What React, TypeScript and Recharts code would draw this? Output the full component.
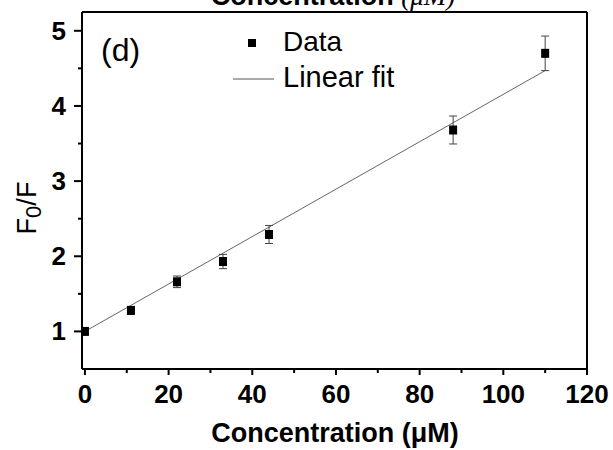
import React from 'react';
import {
  ComposedChart, XAxis, YAxis, Scatter, Line, ErrorBar, ReferenceLine, Customized,
} from 'recharts';

const concentrations = [0, 11, 22, 33, 44, 88, 110];
const ratios = [1.0, 1.28, 1.66, 1.93, 2.29, 3.68, 4.7];
const errors = [0.02, 0.05, 0.077, 0.095, 0.12, 0.186, 0.23];
const fitX = [0, 110];
const fitY = [1.0, 4.47];
const xTicks = [0, 20, 40, 60, 80, 100, 120];
const xMinorTicks = [10, 30, 50, 70, 90, 110];
const yTicks = [1, 2, 3, 4, 5];
const yMinorTicks = [1.5, 2.5, 3.5, 4.5];

const data = concentrations.map((x, i) => ({ x, y: ratios[i], err: errors[i] }));
const fitData = fitX.map((x, i) => ({ x, fit: fitY[i] }));
const allXTicks = [...xTicks, ...xMinorTicks].sort((a, b) => a - b);
const allYTicks = [...yTicks, ...yMinorTicks].sort((a, b) => a - b);

const FONT = '"Liberation Sans", Arial, sans-serif';

const Square = (props: any) => {
  const { cx, cy } = props;
  if (cx == null || cy == null) return null;
  return <rect x={cx - 4} y={cy - 4.5} width={8} height={9} fill="#000" />;
};

const XTick = (props: any) => {
  const { x, y, payload } = props;
  const major = xTicks.includes(payload.value);
  return (
    <g>
      <line x1={x} x2={x} y1={y} y2={y + (major ? 6 : 4)} stroke="#000" strokeWidth={2} />
      {major && (
        <text x={x} y={y + 34} textAnchor="middle" fontFamily={FONT} fontSize={26} fontWeight="bold" fill="#000">
          {payload.value}
        </text>
      )}
    </g>
  );
};

const YTick = (props: any) => {
  const { x, y, payload } = props;
  const major = yTicks.includes(payload.value);
  return (
    <g>
      <line x1={x - (major ? 8 : 4)} x2={x} y1={y} y2={y} stroke="#000" strokeWidth={2} />
      {major && (
        <text x={x - 16} y={y + 9} textAnchor="end" fontFamily={FONT} fontSize={26} fontWeight="bold" fill="#000">
          {payload.value}
        </text>
      )}
    </g>
  );
};

const Decor = () => (
  <g>
    <rect x={248} y={39} width={8} height={8} fill="#000" />
    <text x={283} y={51} fontFamily={FONT} fontSize={28} fill="#000">Data</text>
    <line x1={233} x2={274} y1={79} y2={79} stroke="#555" strokeWidth={1} />
    <text x={283} y={87} fontFamily={FONT} fontSize={29} fill="#000">Linear fit</text>
    <text x={101} y={61} fontFamily={FONT} fontSize={32} fill="#000">(d)</text>
    <text x={335} y={442} textAnchor="middle" fontFamily={FONT} fontSize={27} fontWeight="bold" fill="#000">
      Concentration (μM)
    </text>
    <text x={36} y={208} transform="rotate(-90 36 208)" textAnchor="middle" fontFamily={FONT} fontSize={27} fill="#000">
      F<tspan fontSize={22} dy={5}>0</tspan><tspan dy={-5}>/F</tspan>
    </text>
    <text x={333} y={5} textAnchor="middle" fontFamily={FONT} fontSize={27} fontWeight="bold" fill="#000">
      Concentration <tspan fontFamily='"Liberation Serif", serif' fontStyle="italic" fontWeight="normal">(μM)</tspan>
    </text>
  </g>
);

export default function App() {
  return (
    <div style={{ position: 'absolute', left: 0, top: 0, width: 613, height: 450, background: '#fff' }}>
      <ComposedChart width={613} height={450} margin={{ top: 12, right: 26, left: 0, bottom: 0 }}>
        <XAxis
          xAxisId="main"
          dataKey="x"
          type="number"
          domain={[-0.7, 120]}
          ticks={allXTicks}
          interval={0}
          allowDataOverflow
          height={81}
          axisLine={{ stroke: '#000', strokeWidth: 2 }}
          tickLine={false}
          tickSize={0}
          tickMargin={0}
          tick={<XTick />}
        />
        <YAxis
          yAxisId="main"
          type="number"
          domain={[0.5, 5.25]}
          ticks={allYTicks}
          interval={0}
          allowDataOverflow
          width={82}
          axisLine={{ stroke: '#000', strokeWidth: 2 }}
          tickLine={false}
          tickSize={0}
          tickMargin={0}
          tick={<YTick />}
        />
        <ReferenceLine xAxisId="main" yAxisId="main" y={5.25} stroke="#000" strokeWidth={2} ifOverflow="visible" />
        <ReferenceLine xAxisId="main" yAxisId="main" x={120} stroke="#000" strokeWidth={2} ifOverflow="visible" />
        <Line
          xAxisId="main"
          yAxisId="main"
          data={fitData}
          dataKey="fit"
          type="linear"
          stroke="#666"
          strokeWidth={1}
          dot={false}
          activeDot={false}
          isAnimationActive={false}
          legendType="none"
        />
        <Scatter
          xAxisId="main"
          yAxisId="main"
          data={data}
          dataKey="y"
          shape={<Square />}
          isAnimationActive={false}
        >
          <ErrorBar dataKey="err" direction="y" width={4} stroke="#444" strokeWidth={1} isAnimationActive={false} />
        </Scatter>
        <Customized component={Decor} />
      </ComposedChart>
    </div>
  );
}
